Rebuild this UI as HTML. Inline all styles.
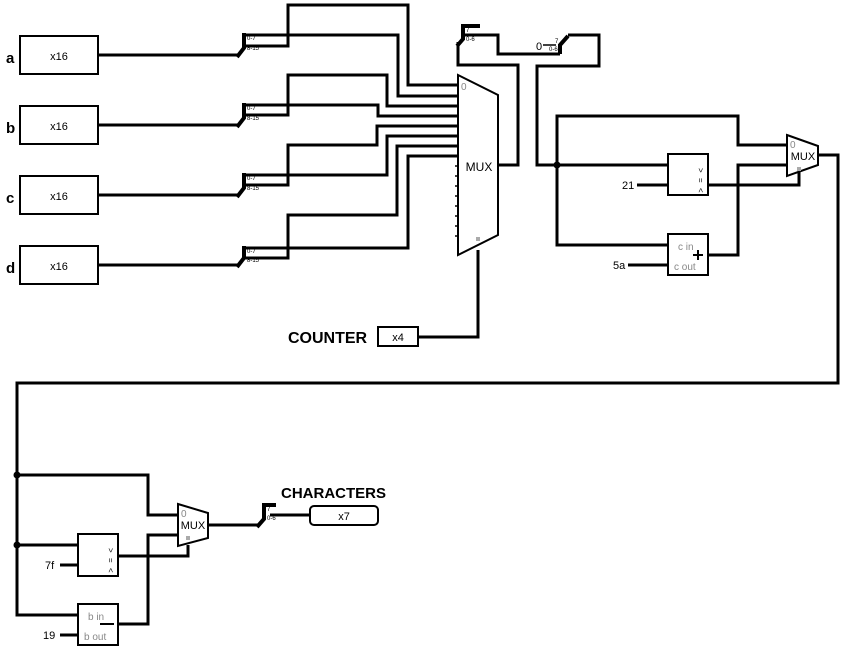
<!DOCTYPE html>
<html><head><meta charset="utf-8"><style>
html,body{margin:0;padding:0;background:#fff;width:844px;height:650px;overflow:hidden}
svg{display:block}
text{font-family:"Liberation Sans",sans-serif}
</style></head><body>
<svg width="844" height="650" viewBox="0 0 844 650" xmlns="http://www.w3.org/2000/svg">
<g fill="none" stroke="#000" stroke-width="3" stroke-linejoin="miter">
<path d="M98 55H238M98 125H238M98 195H238M98 265H238"/>
<path d="M245 35H398V96H458"/>
<path d="M245 46H288V5H408V85H458"/>
<path d="M245 105H378V116H458"/>
<path d="M245 115H288V75H387V106H458"/>
<path d="M245 175H387V136H458"/>
<path d="M245 185H288V145H377V126H458"/>
<path d="M245 248H408V156H458"/>
<path d="M245 258H288V215H397V146H458"/>
<path d="M498 165H518V65H458V42"/>
<path d="M465 35H498V54H560"/>
<path d="M568 35H599V66H537V165H668"/>
<path d="M557 165V116H738V145H787"/>
<path d="M557 165V245H668"/>
<path d="M708 255H738V165H787"/>
<path d="M708 185H799V172"/>
<path d="M637 185H668M628 265H668"/>
<path d="M418 337H478V250"/>
<path d="M818 155H838V383H17V615H78"/>
<path d="M17 475H148V515H178"/>
<path d="M17 545H78M60 565H78M60 635H78"/>
<path d="M118 556H188V545"/>
<path d="M118 624H148V535H178"/>
<path d="M208 525H258"/>
<path d="M270 515H310"/>
</g>
<g stroke="#000" stroke-width="1.5">
<path d="M455 166H459M455 176H459M455 186H459M455 196H459M455 206H459M455 216H459M455 226H459M455 236H459"/>
</g>
<g fill="none" stroke="#000" stroke-width="4">
<path d="M237 57L244 48V33"/><path d="M237 127L244 118V103"/><path d="M237 197L244 188V173"/><path d="M237 267L244 258V246"/>
<path d="M457 46L463 39V26H480"/>
<path d="M560 54V45L568 36"/>
<path d="M257 527L264 519V505H276"/>
</g>
<g font-size="6" fill="#000">
<text x="247" y="40">0-7</text><text x="247" y="50">8-15</text>
<text x="247" y="110">0-7</text><text x="247" y="120">8-15</text>
<text x="247" y="180">0-7</text><text x="247" y="190">8-15</text>
<text x="247" y="253">0-7</text><text x="247" y="262">8-15</text>
<text x="466" y="32">7</text><text x="466" y="41">0-6</text>
<text x="555" y="43">7</text><text x="549" y="51">0-6</text>
<text x="267" y="511">7</text><text x="267" y="520">0-6</text>
</g>
<path d="M543 45H556" stroke="#000" stroke-width="1.5"/>
<text x="536" y="50" font-size="11">0</text>
<g fill="#fff" stroke="#000" stroke-width="2">
<rect x="20" y="36" width="78" height="38"/><rect x="20" y="106" width="78" height="38"/>
<rect x="20" y="176" width="78" height="38"/><rect x="20" y="246" width="78" height="38"/>
<rect x="378" y="327" width="40" height="19"/>
<rect x="310" y="506" width="68" height="19" rx="4"/>
<path d="M458 75L498 95V235L458 255Z"/>
<path d="M787 135L818 146V165L787 176Z"/>
<path d="M178 504L208 513V538L178 546Z"/>
<rect x="668" y="154" width="40" height="41"/>
<rect x="668" y="234" width="40" height="41"/>
<rect x="78" y="534" width="40" height="42"/>
<rect x="78" y="604" width="40" height="41"/>
</g>
<g font-size="11" text-anchor="middle" fill="#000">
<text x="59" y="60">x16</text><text x="59" y="130">x16</text><text x="59" y="200">x16</text><text x="59" y="270">x16</text>
<text x="398" y="341">x4</text><text x="344" y="520">x7</text>
<text x="479" y="171" font-size="12">MUX</text>
<text x="803" y="160">MUX</text>
<text x="193" y="529">MUX</text>
</g>
<g font-size="10" fill="#888">
<text x="461" y="90">0</text><text x="790" y="148">0</text><text x="181" y="517">0</text>
<text x="678" y="250">c in</text><text x="674" y="270">c out</text>
<text x="88" y="620">b in</text><text x="84" y="640">b out</text>
</g>
<rect x="476" y="237" width="4" height="4" fill="#aaa"/>
<rect x="797" y="167" width="4" height="4" fill="#aaa"/>
<rect x="186" y="536" width="4" height="4" fill="#aaa"/>
<path d="M693 255H703M698 250V260M100 624H114" stroke="#000" stroke-width="2"/>
<g font-size="8" fill="#000">
<text transform="translate(698,168) rotate(90)">&gt;</text>
<text transform="translate(698,178) rotate(90)">=</text>
<text transform="translate(698,188) rotate(90)">&lt;</text>
<text transform="translate(108,548) rotate(90)">&gt;</text>
<text transform="translate(108,558) rotate(90)">=</text>
<text transform="translate(108,568) rotate(90)">&lt;</text>
</g>
<g font-size="11" fill="#000">
<text x="622" y="189">21</text><text x="613" y="269">5a</text>
<text x="45" y="569">7f</text><text x="43" y="639">19</text>
</g>
<g font-weight="bold" fill="#000">
<text x="6" y="63" font-size="15">a</text><text x="6" y="133" font-size="15">b</text>
<text x="6" y="203" font-size="15">c</text><text x="6" y="273" font-size="15">d</text>
<text x="288" y="343" font-size="16">COUNTER</text>
<text x="281" y="498" font-size="15">CHARACTERS</text>
</g>
<g fill="#000"><circle cx="557" cy="165" r="3.5"/><circle cx="17" cy="475" r="3.5"/><circle cx="17" cy="545" r="3.5"/></g>
</svg>
</body></html>
